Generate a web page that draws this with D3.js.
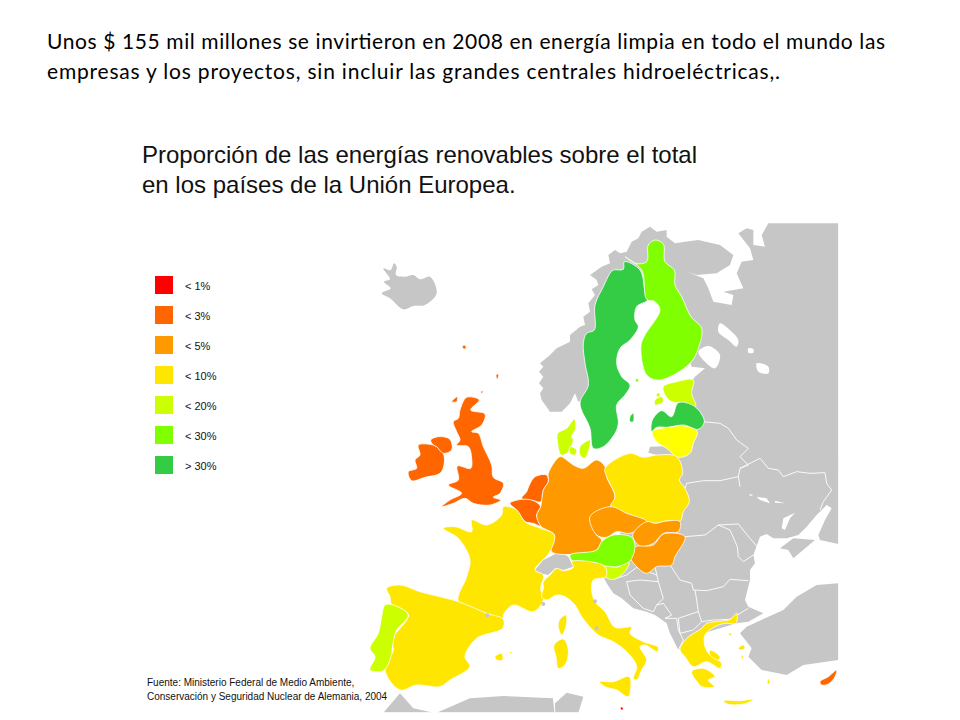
<!DOCTYPE html>
<html>
<head>
<meta charset="utf-8">
<style>
  html, body { margin: 0; background: #fff; }
  text { font-family: "Liberation Sans", Arial, sans-serif; fill: #111; }
  .slide { font-family: Lato, sans-serif; fill: #000; }
</style>
<script src="https://cdn.jsdelivr.net/npm/d3@7"></script>
</head>
<body>
<svg id="chart" width="960" height="720"></svg>
<script>
const headline = [
  "Unos $ 155 mil millones se invirtieron en 2008 en energía limpia en todo el mundo las",
  "empresas y los proyectos, sin incluir las grandes centrales hidroeléctricas,."
]
const headlineWidths = [838, 733]
const titleLines = ["Proporción de las energías renovables sobre el total", "en los países de la Unión Europea."]
const sourceLines = ["Fuente: Ministerio Federal de Medio Ambiente,", "Conservación y Seguridad Nuclear de Alemania, 2004"]
const categories = ["< 1%", "< 3%", "< 5%", "< 10%", "< 20%", "< 30%", "> 30%"]
const classColors = ["#ff0000", "#ff6600", "#ff9900", "#ffe600", "#ccff00", "#80ff00", "#33cc44"]
const noData = "#c6c6c6"
const lithuaniaColor = "#ffff00"

// outlines, in 1/3 px map units; north sheet and south sheet
const landNorth = [[1195,10],[1405,10],[1405,750],[900,750],[880,715],[860,705],[835,698],[840,680],[895,678],[920,640],[950,560],[960,490],[975,470],[1005,445],[965,440],[960,425],[900,300],[850,230],[800,230],[700,400],[640,540],[625,545],[615,520],[600,550],[575,575],[540,575],[515,540],[510,520],[520,505],[507,490],[520,470],[507,455],[520,440],[510,430],[540,405],[560,385],[580,375],[600,365],[600,345],[630,320],[645,315],[640,290],[660,275],[655,250],[675,225],[665,208],[685,195],[680,180],[660,165],[695,140],[720,130],[715,105],[735,90],[750,100],[770,95],[785,65],[805,55],[815,35],[840,20],[860,35],[890,30],[890,50],[915,70],[945,65],[985,60],[1050,75],[1090,105],[1080,135],[1040,160],[980,165],[950,155],[1000,175],[1015,205],[1030,245],[1085,255],[1090,225],[1060,215],[1120,205],[1100,160],[1115,125],[1150,120],[1140,85],[1105,40],[1130,25],[1150,30],[1150,75],[1185,80],[1175,45]]
const landSouth = [[900,-10],[1405,-10],[1405,252],[1350,240],[1345,225],[1365,180],[1385,145],[1370,135],[1340,165],[1310,200],[1285,225],[1250,235],[1210,235],[1190,222],[1170,230],[1160,258],[1150,285],[1155,310],[1140,330],[1140,360],[1125,420],[1135,440],[1180,460],[1135,485],[1100,490],[1000,520],[925,570],[900,520],[890,490],[855,465],[830,455],[790,445],[755,415],[730,400],[710,370],[700,350],[740,300],[760,150],[800,100],[850,50]]
const greyNorth = [
  [[40,145],[62,150],[72,130],[80,140],[78,165],[105,170],[130,165],[150,178],[180,170],[200,220],[165,255],[130,258],[100,268],[60,235],[35,220],[62,205],[42,185],[60,178]]
]
const greySouth = [
  [[1230,265],[1270,235],[1335,240],[1270,295],[1255,270]],
  [[1405,370],[1340,375],[1280,410],[1240,450],[1185,475],[1130,500],[1110,520],[1130,545],[1145,565],[1135,590],[1175,630],[1250,645],[1300,615],[1405,600]],
  [[40,758],[90,700],[130,745],[190,758]],
  [[200,758],[300,715],[400,708],[550,715],[555,758]],
  [[555,730],[590,698],[640,710],[625,758],[555,758]],
  [[495,330],[520,300],[570,275],[595,290],[610,320],[580,330],[555,325],[535,345],[510,340]]
]
const lakes = [
  [[1050,310],[1085,335],[1105,360],[1100,380],[1075,360],[1045,335]],
  [[985,395],[1015,378],[1050,405],[1035,445],[1005,425]],
  [[1135,385],[1150,388],[1150,398],[1135,398]],
  [[1160,430],[1195,440],[1195,460],[1165,455]]
]
const reservoirs = [
  [[1138,102],[1150,105],[1140,108]],
  [[1160,110],[1190,115],[1200,130],[1170,120]],
  [[1215,122],[1245,130],[1215,128]],
  [[1235,205],[1240,175],[1275,158],[1260,175],[1245,210]]
]
const north = [
  { name: "Suecia", cls: 6, pts: [[730,150],[760,148],[763,125],[810,150],[825,215],[833,240],[800,260],[795,300],[805,320],[780,360],[750,385],[740,430],[755,470],[780,495],[765,525],[740,555],[745,610],[735,640],[700,680],[670,685],[660,625],[630,550],[655,495],[645,430],[640,370],[650,340],[673,330],[675,255],[700,200],[720,160]] },
  { name: "Gotland", cls: 6, pts: [[780,590],[790,580],[790,605],[780,605]] },
  { name: "Finlandia", cls: 5, pts: [[765,110],[795,130],[830,125],[835,75],[855,60],[880,72],[885,125],[913,150],[915,195],[935,230],[963,290],[995,325],[985,385],[960,430],[870,480],[830,465],[813,375],[825,345],[870,270],[855,245],[830,238],[815,150]] },
  { name: "Aland", cls: 5, pts: [[797,477],[805,477],[805,485],[797,485]] },
  { name: "Estonia", cls: 4, pts: [[880,500],[920,485],[970,480],[965,520],[977,558],[935,548],[905,545],[885,525]] },
  { name: "Saaremaa", cls: 4, pts: [[855,540],[875,530],[880,545],[855,555]] },
  { name: "Hiiumaa", cls: 4, pts: [[860,520],[870,520],[868,530],[860,530]] },
  { name: "Letonia", cls: 6, pts: [[845,635],[847,600],[875,572],[905,590],[925,548],[975,560],[1003,605],[985,628],[940,615],[895,622],[860,622]] },
  { name: "Dinamarca", cls: 4, pts: [[563,640],[590,625],[613,597],[617,625],[605,650],[610,660],[590,700],[573,705],[563,670]] },
  { name: "Fionia", cls: 4, pts: [[600,680],[620,690],[615,705],[600,700]] },
  { name: "Selandia", cls: 4, pts: [[630,680],[660,660],[655,695],[643,715],[630,705]] },
  { name: "Hébridas", cls: 1, pts: [[245,545],[262,530],[260,545]] },
  { name: "Shetland", cls: 1, pts: [[378,465],[386,462],[382,478]] },
  { name: "Orkney", cls: 1, pts: [[332,515],[340,513],[336,520]] },
  { name: "Feroe", cls: 1, pts: [[277,378],[286,376],[288,386],[280,386]] }
]
const lithuania = [[847,635],[895,622],[945,618],[982,635],[970,670],[960,700],[925,712],[890,685],[860,665]]
const south = [
  { name: "Reino Unido", cls: 1, pts: [[290,-188],[328,-180],[302,-150],[345,-138],[335,-105],[305,-85],[325,-80],[340,-40],[365,15],[370,52],[400,70],[390,100],[370,112],[392,120],[360,135],[310,130],[285,115],[250,130],[215,140],[240,120],[275,100],[235,75],[265,60],[262,18],[302,25],[305,-5],[295,-40],[260,-45],[270,-60],[260,-85],[250,-115],[265,-125],[270,-150]] },
  { name: "Irlanda", cls: 1, pts: [[145,-45],[190,-45],[200,-40],[220,-20],[222,15],[210,40],[165,52],[125,62],[115,35],[140,25],[135,0],[150,-15]] },
  { name: "Irlanda del Norte", cls: 1, pts: [[182,-60],[205,-70],[240,-62],[245,-30],[220,-20],[200,-40],[190,-45]] },
  { name: "Países Bajos", cls: 1, pts: [[455,115],[470,95],[478,75],[495,50],[530,45],[535,65],[520,90],[512,125],[490,122]] },
  { name: "Bélgica", cls: 1, pts: [[420,130],[455,118],[490,122],[512,140],[500,165],[512,198],[490,190],[465,185],[440,150]] },
  { name: "Alemania", cls: 2, pts: [[535,40],[570,-10],[590,0],[610,15],[640,25],[680,0],[705,20],[710,50],[735,110],[722,140],[665,170],[680,225],[695,240],[680,270],[640,280],[545,275],[553,225],[512,198],[500,165],[512,140],[520,90],[535,65]] },
  { name: "Polonia", cls: 3, pts: [[705,25],[780,-20],[820,-8],[860,-15],[920,-10],[938,40],[928,60],[945,85],[958,125],[940,155],[930,185],[890,183],[855,190],[830,185],[770,160],[722,140],[735,110],[710,50]] },
  { name: "República Checa", cls: 2, pts: [[660,170],[722,140],[770,160],[830,185],[780,220],[740,215],[710,232],[680,225]] },
  { name: "Eslovaquia", cls: 2, pts: [[830,185],[855,190],[890,183],[930,185],[925,215],[880,220],[850,250],[810,258],[788,225]] },
  { name: "Hungría", cls: 2, pts: [[790,262],[850,255],[880,222],[945,230],[915,290],[905,315],[860,320],[830,340],[800,320],[780,290]] },
  { name: "Austria", cls: 5, pts: [[600,285],[680,270],[695,245],[730,225],[785,232],[795,262],[778,305],[740,320],[705,318],[660,305],[610,305]] },
  { name: "Eslovenia", cls: 4, pts: [[705,320],[740,322],[778,308],[760,340],[730,358],[708,352]] },
  { name: "Francia", cls: 3, pts: [[400,140],[440,150],[465,185],[512,205],[553,225],[540,275],[495,330],[520,345],[512,385],[520,420],[490,455],[430,435],[400,465],[400,475],[350,460],[265,425],[290,350],[300,300],[265,235],[220,205],[255,200],[305,215],[305,180],[350,195],[395,165]] },
  { name: "Córcega", cls: 3, pts: [[568,480],[588,465],[588,500],[575,525],[565,500]] },
  { name: "España", cls: 3, pts: [[50,385],[90,375],[150,395],[265,425],[350,460],[400,478],[398,505],[320,535],[285,590],[300,620],[240,660],[210,680],[140,675],[90,690],[45,630],[70,570],[65,540],[115,465],[65,435],[60,410]] },
  { name: "Mallorca", cls: 3, pts: [[375,590],[395,580],[398,600],[380,600]] },
  { name: "Menorca", cls: 3, pts: [[418,575],[426,577],[424,582]] },
  { name: "Portugal", cls: 4, pts: [[45,435],[70,435],[115,465],[80,510],[70,545],[60,600],[40,632],[0,630],[15,590],[0,565],[25,520],[35,470]] },
  { name: "Italia", cls: 3, pts: [[520,365],[540,345],[560,325],[580,332],[610,322],[605,305],[660,305],[705,320],[708,350],[670,360],[665,390],[675,425],[705,455],[735,502],[785,502],[780,520],[820,545],[865,562],[862,575],[825,555],[810,560],[830,600],[815,630],[800,660],[790,655],[800,620],[775,580],[730,545],[685,525],[635,470],[615,435],[585,410],[560,405],[530,420],[515,410],[520,385]] },
  { name: "Cerdeña", cls: 3, pts: [[552,555],[580,537],[595,570],[585,615],[565,625],[558,590]] },
  { name: "Sicilia", cls: 3, pts: [[688,665],[730,665],[778,650],[775,710],[740,690],[705,680]] },
  { name: "Malta", cls: 0, pts: [[752,741],[760,744],[758,750],[752,748]] },
  { name: "Grecia", cls: 3, pts: [[930,570],[950,535],[995,505],[1010,490],[1080,478],[1100,460],[1098,490],[1065,490],[1035,500],[1005,525],[1005,560],[1020,585],[1055,610],[1050,625],[1010,605],[970,620],[945,590]] },
  { name: "Peloponeso", cls: 3, pts: [[965,635],[1000,625],[1035,650],[1015,660],[1033,680],[995,680],[985,670]] },
  { name: "Creta", cls: 3, pts: [[1060,722],[1110,722],[1150,718],[1130,730],[1075,733]] },
  { name: "Eubea", cls: 3, pts: [[1020,570],[1050,590],[1045,600],[1020,585]] },
  { name: "Lesbos", cls: 3, pts: [[1105,565],[1120,555],[1125,565],[1110,570]] },
  { name: "Quíos", cls: 3, pts: [[1115,585],[1121,590],[1115,598]] },
  { name: "Samotracia", cls: 3, pts: [[1075,520],[1085,520],[1082,528]] },
  { name: "Rodas", cls: 3, pts: [[1195,655],[1200,670],[1192,672]] },
  { name: "Chipre", cls: 1, pts: [[1350,665],[1375,650],[1400,630],[1395,650],[1375,672],[1355,675]] }
]
const microStates = [[352,466],[520,432],[675,424],[680,505]]
const borderLines = [
  [[985,-95],[1000,-115],[1050,-110],[1075,-95],[1100,-60],[1135,-35],[1110,-10],[1135,15],[1110,25],[1105,50],[1110,80]],
  [[945,85],[950,70],[1000,62],[1050,62],[1105,50]],
  [[1110,25],[1170,-5],[1195,25],[1225,30],[1240,50],[1280,35],[1320,40],[1365,38],[1370,70],[1385,90],[1360,125],[1350,150]],
  [[945,230],[1005,225],[1045,195],[1105,192],[1140,235],[1160,258]],
  [[1045,195],[1080,210],[1102,260],[1105,290],[1120,305],[1150,285]],
  [[970,390],[1010,392],[1060,380],[1080,358],[1135,362]],
  [[900,315],[930,360],[965,370],[970,390]],
  [[975,390],[980,420],[985,455]],
  [[995,485],[1030,480],[1080,478],[1135,445]],
  [[925,475],[985,455],[995,485],[970,510],[930,520],[925,475]],
  [[885,475],[920,475],[925,510],[940,540],[925,570]],
  [[860,435],[880,430],[905,465],[885,475]],
  [[770,365],[810,360],[865,365],[880,415],[860,435],[850,455],[820,445],[780,405],[770,365]],
  [[730,358],[770,345],[800,322],[860,345]],
  [[855,320],[865,365]],
  [[550,715],[555,758]]
]

const svg = d3.select("#chart")
const x = d3.scaleLinear().domain([0, 1410]).range([370, 840])
const yNorth = d3.scaleLinear().domain([0, 750]).range([220, 470])
const ySouth = d3.scaleLinear().domain([0, 765]).range([460, 715])
const lineNorth = d3.line().x(d => x(d[0])).y(d => yNorth(d[1]))
const lineSouth = d3.line().x(d => x(d[0])).y(d => ySouth(d[1]))
const softNorth = d3.line().x(d => x(d[0])).y(d => yNorth(d[1])).curve(d3.curveCatmullRomClosed.alpha(0.5))
const softSouth = d3.line().x(d => x(d[0])).y(d => ySouth(d[1])).curve(d3.curveCatmullRomClosed.alpha(0.5))

svg.append("defs").append("clipPath").attr("id", "mapClip")
  .append("rect").attr("x", x(0) - 10).attr("y", yNorth(9)).attr("width", x(1405) - x(0) + 10).attr("height", ySouth(757) - yNorth(9))

const map = svg.append("g").attr("clip-path", "url(#mapClip)")
const drawAreas = (rows, line, fill, stroke) =>
  map.append("g").selectAll("path").data(rows).enter().append("path")
    .attr("d", d => line(d) + "Z")
    .attr("fill", fill)
    .attr("stroke", stroke)
    .attr("stroke-width", 0.8)
    .attr("stroke-linejoin", "round")

drawAreas([landNorth], lineNorth, noData, "none")
drawAreas([landSouth], lineSouth, noData, "none")
drawAreas(greyNorth, softNorth, noData, "none")
drawAreas(greySouth, lineSouth, noData, "none")
drawAreas(lakes, softNorth, "#fff", "none")
drawAreas(reservoirs, lineSouth, "#fff", "none")

map.append("g").selectAll("path").data(borderLines).enter().append("path")
  .attr("d", lineSouth)
  .attr("fill", "none")
  .attr("stroke", "#fff")
  .attr("stroke-width", 0.9)

drawAreas(north.map(d => d.pts), softNorth, (d, i) => classColors[north[i].cls], "#fff")
drawAreas([lithuania], softNorth, lithuaniaColor, "#fff")
drawAreas(south.map(d => d.pts), softSouth, (d, i) => classColors[south[i].cls], "#fff")

map.append("g").selectAll("circle").data(microStates).enter().append("circle")
  .attr("cx", d => x(d[0]))
  .attr("cy", d => ySouth(d[1]))
  .attr("r", 2)
  .attr("fill", noData)

// legend
const legendY = d3.scaleBand().domain(categories).range([270, 480])
const legend = svg.append("g").selectAll("g").data(categories).enter().append("g")
  .attr("transform", d => `translate(0,${legendY(d) + 6})`)
legend.append("rect")
  .attr("x", 155).attr("width", 18).attr("height", 18)
  .attr("fill", (d, i) => classColors[i])
legend.append("text")
  .attr("x", 185).attr("y", 13.5)
  .attr("font-size", 11)
  .text(d => d)

svg.append("g").selectAll("text").data(headline).enter().append("text")
  .attr("class", "slide")
  .attr("x", 47)
  .attr("y", (d, i) => 49 + i * 30)
  .attr("font-size", 21)
  .attr("textLength", (d, i) => headlineWidths[i])
  .attr("lengthAdjust", "spacing")
  .text(d => d)

svg.append("g").selectAll("text").data(titleLines).enter().append("text")
  .attr("x", 142)
  .attr("y", (d, i) => 163 + i * 30)
  .attr("font-size", 24)
  .text(d => d)

svg.append("g").selectAll("text").data(sourceLines).enter().append("text")
  .attr("x", 147)
  .attr("y", (d, i) => 686 + i * 13.5)
  .attr("font-size", 10)
  .text(d => d)
</script>
</body>
</html>
